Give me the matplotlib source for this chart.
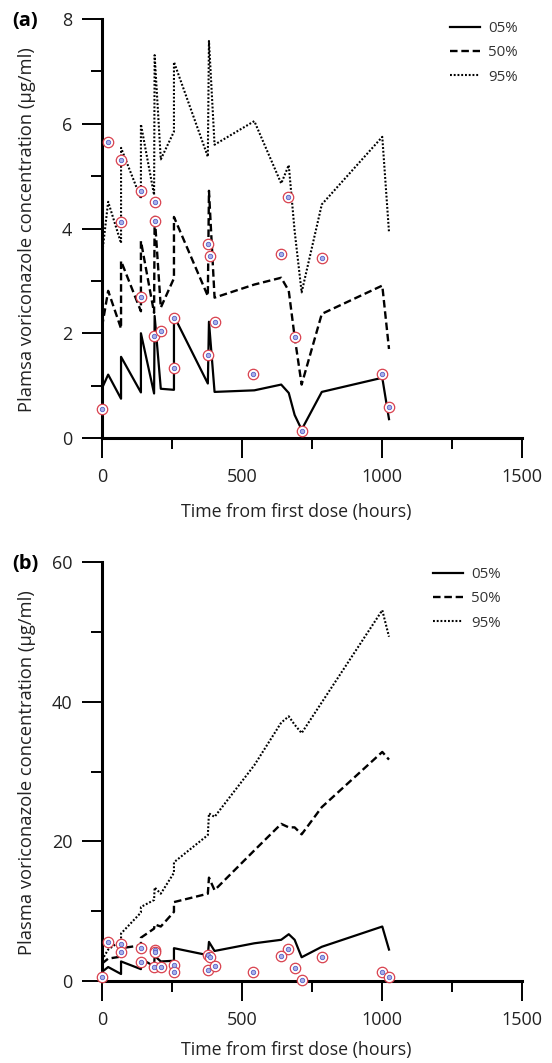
import matplotlib
matplotlib.use("Agg")
import matplotlib.pyplot as plt
from matplotlib.ticker import MultipleLocator

plt.rcParams['font.family'] = ['Open Sans', 'DejaVu Sans']

# ---------------- data ----------------
time_grid = [0, 22, 68, 68, 139, 139, 186, 188, 210, 257, 257, 378, 382, 402,
             544, 640, 667, 688, 713, 785, 1001, 1025]

a_p05 = [0.95, 1.21, 0.75, 1.55, 0.87, 2.00, 0.85, 2.33, 0.94, 0.92, 2.33, 1.04,
         2.22, 0.88, 0.91, 1.02, 0.86, 0.44, 0.16, 0.88, 1.15, 0.36]
a_p50 = [2.12, 2.81, 2.09, 3.38, 2.42, 3.76, 2.39, 4.26, 2.49, 3.05, 4.22, 2.71,
         4.72, 2.68, 2.93, 3.06, 2.81, 1.93, 1.02, 2.37, 2.91, 1.70]
a_p95 = [3.49, 4.51, 3.72, 5.54, 4.57, 5.99, 4.64, 7.31, 5.32, 5.85, 7.18, 5.37,
         7.58, 5.60, 6.05, 4.86, 5.21, 3.95, 2.78, 4.46, 5.75, 3.93]

b_p05 = [1.3, 2.0, 1.0, 2.8, 1.7, 3.2, 2.1, 3.6, 2.8, 2.9, 4.7, 3.7,
         5.6, 4.3, 5.4, 5.9, 6.7, 5.9, 3.4, 4.9, 7.8, 4.5]
b_p50 = [2.5, 3.2, 3.5, 4.7, 5.1, 6.2, 7.5, 8.1, 7.8, 9.9, 11.3, 12.5,
         14.8, 13.0, 18.7, 22.5, 22.0, 22.0, 21.0, 24.9, 32.8, 31.7]
b_p95 = [3.0, 4.5, 5.8, 6.8, 9.8, 10.6, 11.6, 13.4, 12.5, 15.5, 17.0, 20.9,
         24.0, 23.5, 30.9, 37.0, 37.9, 36.7, 35.5, 39.9, 53.1, 49.3]

obs_time = [1, 22, 68, 68, 141, 141, 191, 189, 186, 210, 257, 257, 378, 385,
            378, 402, 540, 665, 640, 785, 690, 1001, 1025, 713]
obs_conc = [0.55, 5.65, 5.30, 4.13, 4.71, 2.69, 4.50, 4.15, 1.95, 2.04, 2.30, 1.33,
            3.70, 3.47, 1.58, 2.21, 1.23, 4.61, 3.52, 3.44, 1.92, 1.23, 0.60, 0.14]

legend_labels = ['05%', '50%', '95%']
x_ticks = [0, 500, 1000, 1500]
a_yticks = [0, 2, 4, 6, 8]
b_yticks = [0, 20, 40, 60]

# ---------------- figure ----------------
W, H = 552, 1063
fig = plt.figure(figsize=(W / 100, H / 100), dpi=100)

def fx(px):
    return px / W

def fy(py):
    return 1 - py / H

panels = [
    dict(top=19, bottom=438, ys=(a_p05, a_p50, a_p95), yticks=a_yticks, ymax=8,
         minor=1, tag='(a)', ylabel='Plamsa voriconazole concentration (\u00b5g/ml)',
         xlabel_y=512, leg_y=33, leg_x=450),
    dict(top=562, bottom=981, ys=(b_p05, b_p50, b_p95), yticks=b_yticks, ymax=60,
         minor=10, tag='(b)', ylabel='Plasma voriconazole concentration (\u00b5g/ml)',
         xlabel_y=1050, leg_y=579, leg_x=433),
]

styles = [dict(ls='-', lw=1.6),
          dict(ls=(0, (3.2, 1.6)), lw=1.7),
          dict(ls=(0, (0.9, 0.9)), lw=1.5)]

for p in panels:
    left, right = 102, 522
    ax = fig.add_axes([fx(left), fy(p['bottom']), fx(right - left),
                       (p['bottom'] - p['top']) / H])
    handles = []
    for ys, st, lab in zip(p['ys'], styles, legend_labels):
        h, = ax.plot(time_grid, ys, color='black', label=lab, **st)
        handles.append(h)
    ax.plot(obs_time, obs_conc, ls='none', marker='o', ms=7.5, mfc='white',
            mec='#d9414e', mew=0.9, clip_on=False, zorder=5)
    ax.plot(obs_time, obs_conc, ls='none', marker='o', ms=3.2, mfc='#aab0e8',
            mec='#5560c8', mew=0.6, clip_on=False, zorder=6)

    ax.set_xlim(0, 1500)
    ax.set_ylim(0, p['ymax'])
    ax.set_xticks(x_ticks)
    ax.set_yticks(p['yticks'])
    ax.xaxis.set_minor_locator(MultipleLocator(250))
    ax.yaxis.set_minor_locator(MultipleLocator(p['minor']))
    for s in ['top', 'right']:
        ax.spines[s].set_visible(False)
    for s in ['left', 'bottom']:
        ax.spines[s].set_linewidth(2.2)
    ax.tick_params(which='major', direction='out', length=14.5, width=1.4,
                   labelsize=13, pad=7, colors='black')
    ax.tick_params(which='minor', direction='out', length=8, width=1.4)
    for t in ax.get_xticklabels() + ax.get_yticklabels():
        t.set_color('#222222')
    ax.patch.set_alpha(0)

    leg = ax.legend(handles=handles, loc='upper left', frameon=False,
                    bbox_to_anchor=(fx(p['leg_x']), fy(p['leg_y'] - 12)),
                    bbox_transform=fig.transFigure, fontsize=10.8,
                    handlelength=2.0, handletextpad=0.55, labelspacing=0.62,
                    borderaxespad=0, borderpad=0)
    for t in leg.get_texts():
        t.set_color('#333333')

    fig.text(fx(296), fy(p['xlabel_y']), 'Time from first dose (hours)',
             ha='center', va='center', fontsize=12.8, color='#222222')
    fig.text(fx(27), fy((p['top'] + p['bottom']) / 2 + 1), p['ylabel'],
             rotation=90, ha='center', va='center', fontsize=13.2, color='#222222')
    fig.text(fx(12), fy(p['top'] + 2), p['tag'], ha='left', va='center',
             fontsize=14.5, fontweight='bold')

fig.savefig('out.png', dpi=100)
